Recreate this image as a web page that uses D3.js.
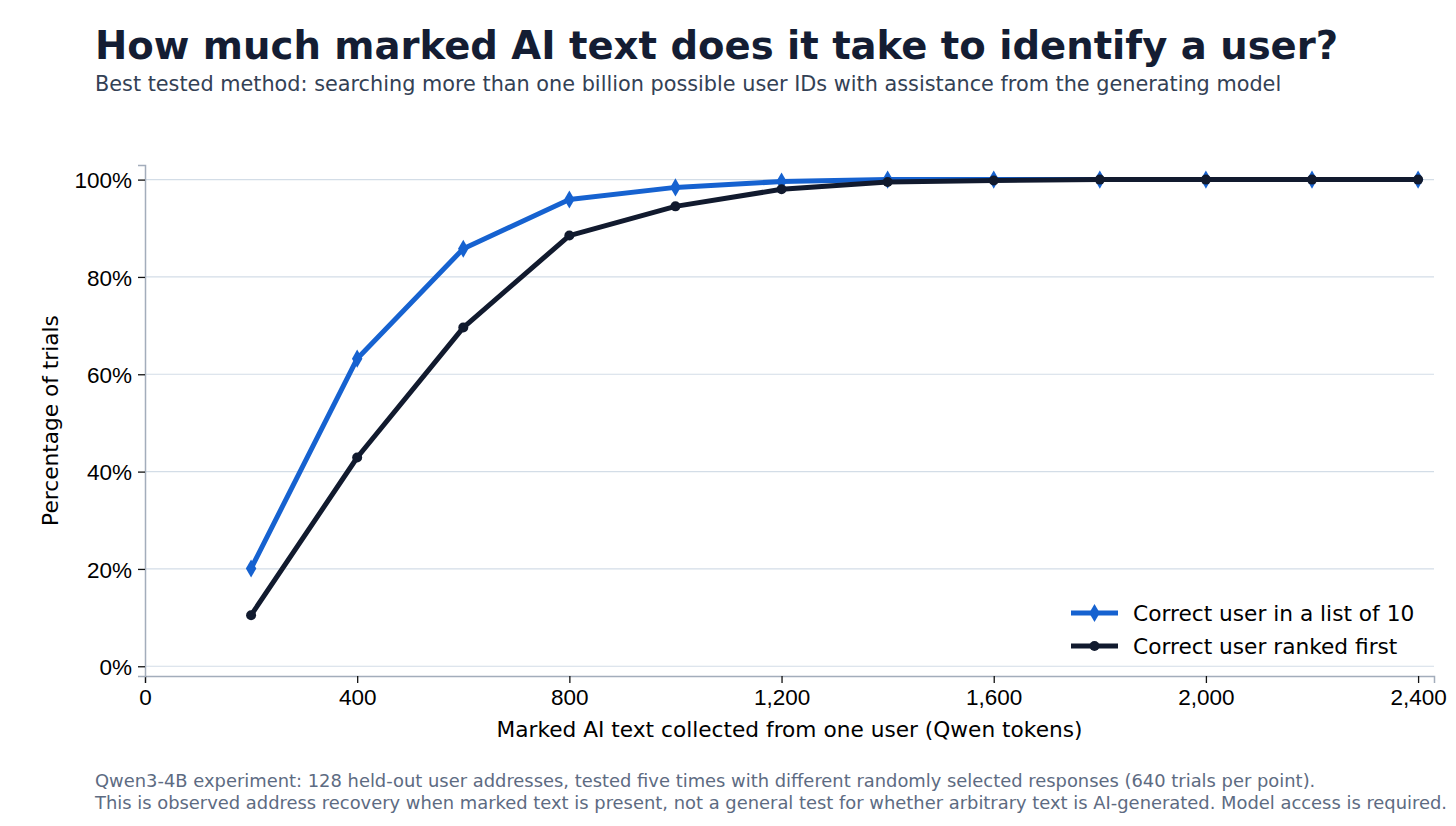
<!DOCTYPE html>
<html lang="en">
<head>
    <meta charset="UTF-8">
    <title>How much marked AI text does it take to identify a user?</title>
    <script src="https://d3js.org/d3.v7.min.js"></script>
    <style>
        body {
            margin: 0;
            padding: 0;
            background: #fff;
        }
        svg {
            display: block;
            font-family: "DejaVu Sans", sans-serif;
        }
        .grid line {
            stroke: #d3dde7;
            stroke-width: 1.2px;
        }
        .axis path {
            stroke: #a3adbb;
            stroke-width: 1.5px;
        }
        .axis line {
            stroke: #111;
            stroke-width: 1.3px;
        }
        .axis text {
            font-size: 22.5px;
            fill: #000;
        }
    </style>
</head>
<body>
<svg></svg>
<script>
    const tokens = [200, 400, 600, 800, 1000, 1200, 1400, 1600, 1800, 2000, 2200, 2400];
    const inListOf10 = [20.1, 63.2, 85.8, 95.9, 98.4, 99.6, 100, 100, 100, 100, 100, 100];
    const rankedFirst = [10.5, 42.9, 69.6, 88.5, 94.5, 98.0, 99.5, 99.8, 100, 100, 100, 100];
    const xTicks = [0, 400, 800, 1200, 1600, 2000, 2400];
    const yTicks = [0, 20, 40, 60, 80, 100];
    const seriesNames = ["Correct user in a list of 10", "Correct user ranked first"];
    const seriesColors = ["#1662d0", "#111a2e"];

    const width = 1456, height = 826;
    const margin = {left: 145, right: 22, top: 165, bottom: 150};

    const svg = d3.select("svg").attr("width", width).attr("height", height);

    const x = d3.scaleLinear().domain([0, 2430]).range([margin.left, width - margin.right]);
    const y = d3.scaleLinear().domain([-2, 103]).range([height - margin.bottom, margin.top]);

    // gridlines
    svg.append("g").attr("class", "grid")
        .selectAll("line").data(yTicks).enter().append("line")
        .attr("x1", x(0)).attr("x2", x(2430))
        .attr("y1", d => y(d)).attr("y2", d => y(d));

    // axes
    const xAxis = svg.append("g").attr("class", "axis")
        .attr("transform", `translate(0,${y(-2)})`)
        .call(d3.axisBottom(x).tickValues(xTicks).tickFormat(d3.format(",")).tickSizeOuter(0).tickSize(7).tickPadding(4));
    const yAxis = svg.append("g").attr("class", "axis")
        .attr("transform", `translate(${x(0)},0)`)
        .call(d3.axisLeft(y).tickValues(yTicks).tickFormat(d => d + "%").tickSizeOuter(0).tickSize(7).tickPadding(6));
    xAxis.selectAll("text").attr("dy", "0.78em");
    yAxis.selectAll("text").attr("dy", "0.36em");

    // axis labels
    svg.append("text")
        .attr("x", (x(0) + x(2430)) / 2).attr("y", 737)
        .attr("text-anchor", "middle").attr("font-size", 21.7).attr("fill", "#000")
        .text("Marked AI text collected from one user (Qwen tokens)");
    svg.append("text")
        .attr("transform", `translate(58,${(y(-2) + y(103)) / 2}) rotate(-90)`)
        .attr("text-anchor", "middle").attr("font-size", 21.7).attr("fill", "#000")
        .text("Percentage of trials");

    const line = d3.line().x(d => x(d[0])).y(d => y(d[1]));
    const diamond = d3.symbol().type(d3.symbolDiamond).size(95);

    // blue series: list of 10
    const blueData = tokens.map((t, i) => [t, inListOf10[i]]);
    svg.append("path").datum(blueData)
        .attr("fill", "none").attr("stroke", seriesColors[0]).attr("stroke-width", 5)
        .attr("stroke-linejoin", "round").attr("d", line);
    svg.append("g").selectAll("path").data(blueData).enter().append("path")
        .attr("d", diamond)
        .attr("transform", d => `translate(${x(d[0])},${y(d[1])})`)
        .attr("fill", seriesColors[0]);

    // dark series: ranked first
    const darkData = tokens.map((t, i) => [t, rankedFirst[i]]);
    svg.append("path").datum(darkData)
        .attr("fill", "none").attr("stroke", seriesColors[1]).attr("stroke-width", 5)
        .attr("stroke-linejoin", "round").attr("d", line);
    svg.append("g").selectAll("circle").data(darkData).enter().append("circle")
        .attr("cx", d => x(d[0])).attr("cy", d => y(d[1])).attr("r", 5)
        .attr("fill", seriesColors[1]);

    // legend
    const legend = svg.append("g").attr("transform", "translate(1071,613)");
    seriesNames.forEach((name, i) => {
        const g = legend.append("g").attr("transform", `translate(0,${i * 33})`);
        g.append("line").attr("x1", 0).attr("x2", 47).attr("y1", 0).attr("y2", 0)
            .attr("stroke", seriesColors[i]).attr("stroke-width", 5);
        if (i === 0) {
            g.append("path").attr("d", diamond).attr("transform", "translate(23.5,0)").attr("fill", seriesColors[i]);
        } else {
            g.append("circle").attr("cx", 23.5).attr("cy", 0).attr("r", 5).attr("fill", seriesColors[i]);
        }
        g.append("text").attr("x", 62).attr("y", 0).attr("dy", "0.36em")
            .attr("font-size", 21.7).attr("fill", "#000").text(name);
    });

    // titles
    svg.append("text").attr("x", 95).attr("y", 59)
        .attr("font-size", 38.6).attr("font-weight", "bold").attr("fill", "#141d33")
        .text("How much marked AI text does it take to identify a user?");
    svg.append("text").attr("x", 95).attr("y", 91)
        .attr("font-size", 20.8).attr("fill", "#334155")
        .text("Best tested method: searching more than one billion possible user IDs with assistance from the generating model");

    // footnote
    const notes = [
        "Qwen3-4B experiment: 128 held-out user addresses, tested five times with different randomly selected responses (640 trials per point).",
        "This is observed address recovery when marked text is present, not a general test for whether arbitrary text is AI-generated. Model access is required."
    ];
    svg.append("g").selectAll("text").data(notes).enter().append("text")
        .attr("x", 95).attr("y", (d, i) => 787 + i * 21.5)
        .attr("font-size", 17.9).attr("fill", "#5d6b82")
        .text(d => d);
</script>
</body>
</html>
